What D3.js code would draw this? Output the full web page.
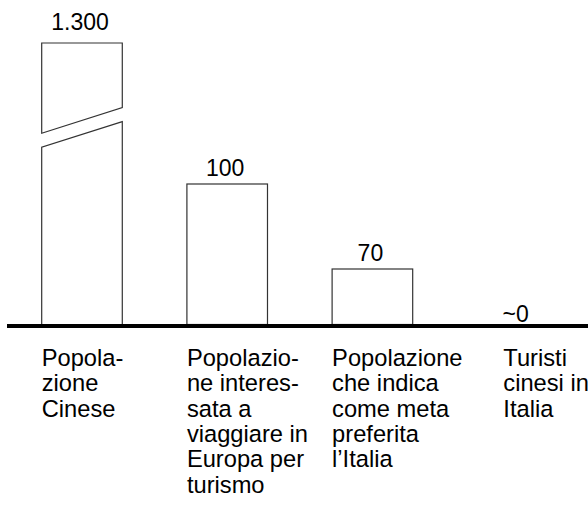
<!DOCTYPE html>
<html>
<head>
<meta charset="utf-8">
<script src="https://cdn.jsdelivr.net/npm/d3@7"></script>
<style>
  html, body { margin: 0; padding: 0; background: #fff; }
  svg { display: block; }
  text { font-family: "Liberation Sans", Arial, Helvetica, sans-serif; fill: #000; }
</style>
</head>
<body>
<svg id="chart" width="588" height="511"></svg>
<script>
// ---- data ----
const categories = ["Popolazione Cinese", "Popolazione interessata a viaggiare in Europa per turismo", "Popolazione che indica come meta preferita l'Italia", "Turisti cinesi in Italia"];
const values = [1300, 100, 70, 0];
const valueLabels = ["1.300", "100", "70", "~0"];
const categoryLines = [
  ["Popola-", "zione", "Cinese"],
  ["Popolazio-", "ne interes-", "sata a", "viaggiare in", "Europa per", "turismo"],
  ["Popolazione", "che indica", "come meta", "preferita", "l\u2019Italia"],
  ["Turisti", "cinesi in", "Italia"]
];
const brokenBars = [true, false, false, false];
// broken (not-to-scale) value axis breakpoints
const scaleDomain = [0, 70, 100, 1300];

// ---- layout ----
const W = 588, H = 511;
const baseY = 324.5;
const svg = d3.select("#chart");

const x = d3.scaleBand()
  .domain(categories)
  .range([41.7, 557.9])
  .paddingInner(0.445)
  .paddingOuter(0);

const y = d3.scaleLinear()
  .domain(scaleDomain)
  .range([baseY, 269, 184, 43]);

const bars = categories.map((c, i) => ({
  cat: c, v: values[i], label: valueLabels[i], lines: categoryLines[i], broken: brokenBars[i], i
}));

const g = svg.append("g");

// bars
bars.forEach(d => {
  const x0 = x(d.cat), x1 = x0 + x.bandwidth();
  const top = y(d.v), bot = y(0);
  if (bot - top < 0.5) return;
  if (!d.broken) {
    g.append("rect")
      .attr("x", x0).attr("y", top)
      .attr("width", x1 - x0).attr("height", bot - top)
      .attr("fill", "#fff").attr("stroke", "#333").attr("stroke-width", 1.2);
  } else {
    const h = bot - top;
    const mid = top + 0.3 * h;
    const half = 12.8, gap = 7;
    const upper = d3.path();
    upper.moveTo(x0, mid - gap + half);
    upper.lineTo(x0, top);
    upper.lineTo(x1, top);
    upper.lineTo(x1, mid - gap - half);
    upper.closePath();
    const lower = d3.path();
    lower.moveTo(x0, bot);
    lower.lineTo(x0, mid + gap + half);
    lower.lineTo(x1, mid + gap - half);
    lower.lineTo(x1, bot);
    g.append("path").attr("d", upper.toString())
      .attr("fill", "#fff").attr("stroke", "#333").attr("stroke-width", 1.2);
    g.append("path").attr("d", lower.toString())
      .attr("fill", "none").attr("stroke", "#333").attr("stroke-width", 1.2);
  }
});

// baseline
g.append("line")
  .attr("x1", 7).attr("x2", W)
  .attr("y1", baseY + 1.5).attr("y2", baseY + 1.5)
  .attr("stroke", "#000").attr("stroke-width", 4);

// value labels
g.selectAll("text.val").data(bars).join("text")
  .attr("class", "val")
  .attr("x", d => x(d.cat) + x.bandwidth() / 2 - 2)
  .attr("y", d => y(d.v) - (d.broken ? 13 : (d.v === 0 ? 3 : 8.5)))
  .attr("text-anchor", "middle")
  .attr("font-size", "23px")
  .text(d => d.label);

// category labels
bars.forEach(d => {
  const tx = x(d.cat) + (d.v === 0 ? 26 : 0);
  const t = g.append("text")
    .attr("x", tx)
    .attr("y", 366)
    .attr("font-size", "23.7px");
  d.lines.forEach((ln, k) => {
    t.append("tspan").attr("x", tx).attr("dy", k === 0 ? 0 : 25.3).text(ln);
  });
});
</script>
</body>
</html>
